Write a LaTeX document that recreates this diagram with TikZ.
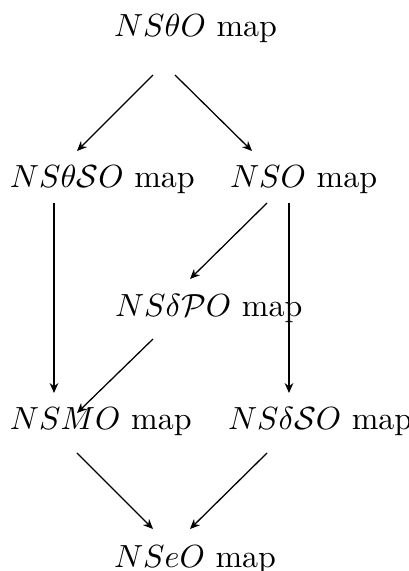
\documentclass[tikz,border=0pt]{standalone}
\usetikzlibrary{arrows.meta}
\begin{document}
\begin{tikzpicture}[x=0.3125pt,y=0.3125pt,
  mapnode/.style={anchor=base west,inner sep=0pt,outer sep=0pt},
  arr/.style={-{Stealth[length=3.1pt,width=2.7pt]},line width=0.4pt}]
\useasboundingbox (0,0) rectangle (409,571);
% nodes of the diagram
\node[mapnode] (t) at (114,534) {$NS\theta O$ map};
\node[mapnode] (a) at (10,383) {$NS\theta\mathcal{S}O$ map};
\node[mapnode] (b) at (230,383) {$NSO$ map};
\node[mapnode] (c) at (115,254) {$NS\delta\mathcal{P}O$ map};
\node[mapnode] (d) at (10,141) {$NSMO$ map};
\node[mapnode] (e) at (228,141) {$NS\delta\mathcal{S}O$ map};
\node[mapnode] (f) at (114,3) {$NSeO$ map};
% arrows
\draw[arr] ([shift={(39,-38)}]t.base west) -- ([shift={(67,37)}]a.base west);
\draw[arr] ([shift={(61,-38)}]t.base west) -- ([shift={(22,37)}]b.base west);
\draw[arr] ([shift={(44,-15)}]a.base west) -- ([shift={(44,37)}]d.base west);
\draw[arr] ([shift={(37,-15)}]b.base west) -- ([shift={(75,38)}]c.base west);
\draw[arr] ([shift={(59,-15)}]b.base west) -- ([shift={(61,37)}]e.base west);
\draw[arr] ([shift={(38,-22)}]c.base west) -- ([shift={(67,17)}]d.base west);
\draw[arr] ([shift={(67,-23)}]d.base west) -- ([shift={(39,39)}]f.base west);
\draw[arr] ([shift={(39,-23)}]e.base west) -- ([shift={(76,39)}]f.base west);
\end{tikzpicture}
\end{document}
